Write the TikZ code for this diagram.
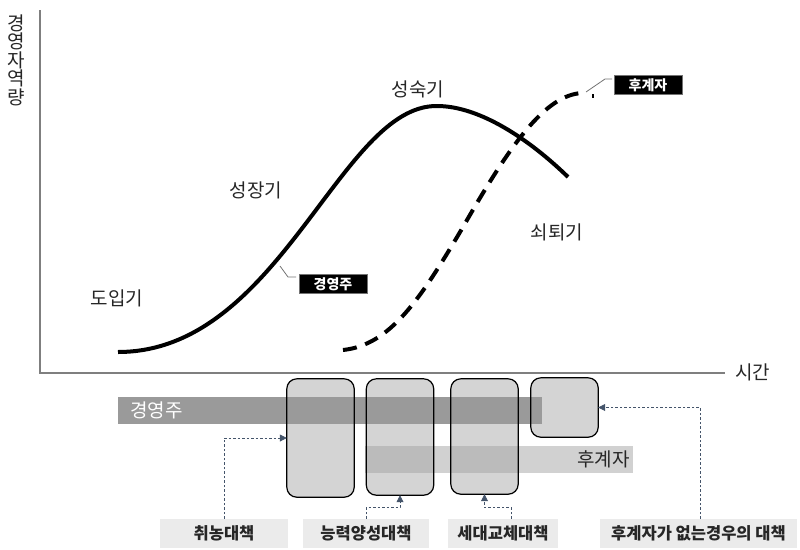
\documentclass[tikz,border=0pt]{standalone}
\usepackage{fontspec}
\setmainfont{Noto Sans CJK KR}
\usetikzlibrary{arrows.meta,calc}
\definecolor{axisgray}{HTML}{7F7F7F}
\definecolor{boxfill}{HTML}{D4D4D4}
\definecolor{darkbar}{HTML}{9A9A9A}
\definecolor{lightbarc}{HTML}{A3A3A3}
\definecolor{labfill}{HTML}{EBEBEB}
\definecolor{connc}{HTML}{44546A}
\tikzset{
  axisline/.style={axisgray, line width=1.5pt},
  phase/.style={font=\fontsize{19}{21}\selectfont, text=black!85, inner sep=0},
  stagebox/.style={fill=boxfill, draw=none, rounded corners=10pt, inner sep=0, minimum width=67pt},
  stageborder/.style={draw=black, line width=1.2pt, rounded corners=10pt},
  blacklabel/.style={fill=black, draw=black!55, line width=0.8pt, text=white, font=\fontsize{14}{16}\selectfont\bfseries, inner sep=0, minimum width=68pt, minimum height=19pt},
  leader/.style={black!55, line width=0.8pt},
  bottomlabel/.style={fill=labfill, draw=none, font=\fontsize{16.5}{18}\selectfont\bfseries, text=black!85, inner sep=0, minimum height=29pt},
  conn/.style={connc, line width=0.8pt, dash pattern=on 2.5pt off 2pt, -{Triangle[length=7pt,width=7pt]}},
}
\begin{document}
\begin{tikzpicture}[x=1pt,y=-1pt]
\useasboundingbox (0,0) rectangle (800,549);
% axes
\draw[axisline] (40,10) -- (40,373) -- (725,373);
\node[phase, align=center, font=\fontsize{19}{18.5}\selectfont] (ylab) at (16,60) {경\\영\\자\\역\\량};
\node[phase, anchor=west] (xlab) at (735,372) {시간};
% curves
\draw[line width=4pt, line cap=butt] (118,352) .. controls (280,352) and (340,105) .. (437,106) .. controls (480,106) and (530,140) .. (568,177);
\draw[line width=4pt, dash pattern=on 14pt off 9pt] (343,350) .. controls (390,345) and (420,300) .. (463,227) .. controls (510,145) and (545,95) .. (582,93);
\draw[line width=2pt] (593,94) -- (593,98);
% phase labels
\node[phase] (p1) at (117,298) {도입기};
\node[phase] (p2) at (256,190) {성장기};
\node[phase] (p3) at (418,89) {성숙기};
\node[phase] (p4) at (557,232) {쇠퇴기};
% black labels
\node[blacklabel] (bl1) at (333,284) {경영주};
\node[blacklabel] (bl2) at (648,85) {후계자};
\coordinate (c1) at (280,266);
\coordinate (c2) at (586,92);
\draw[leader] (c1) -- (288,277) -- (296,277);
\draw[leader] (c2) -- (605,79) -- (612,79);
% stage boxes
\node[stagebox, minimum height=118pt] (b1) at (320.5,438) {};
\node[stagebox, minimum height=116pt] (b2) at (400,437) {};
\node[stagebox, minimum height=115pt] (b3) at (484.5,436.5) {};
\node[stagebox, minimum height=59pt] (b4) at (564.5,407.5) {};
% bars
\fill[darkbar] (118,397) rectangle (542,424);
\fill[lightbarc, fill opacity=0.5] (365,446) rectangle (633,473);
\node[anchor=west, text=white, font=\fontsize{19}{21}\selectfont, inner sep=0] (bar1) at (130,410) {경영주};
\node[anchor=east, text=black!85, font=\fontsize{19}{21}\selectfont, inner sep=0] (bar2) at (630,459) {후계자};
% borders
\foreach \b in {b1,b2,b3,b4} \draw[stageborder] (\b.south west) rectangle (\b.north east);
% bottom labels
\node[bottomlabel, minimum width=128pt] (l1) at (224,533.5) {취농대책};
\node[bottomlabel, minimum width=126pt] (l2) at (366,533.5) {능력양성대책};
\node[bottomlabel, minimum width=110pt] (l3) at (503,533.5) {세대교체대책};
\node[bottomlabel, minimum width=197pt] (l4) at (698.5,533.5) {후계자가 없는경우의 대책};
% connectors
\draw[conn] (l1.north) |- (b1.west);
\draw[conn] (l2.north) -- ++(0,-11) -| (b2.south);
\draw[conn] ($(l3.north)+(8,0)$) -- ++(0,-11) -| (b3.south);
\draw[conn] ($(l4.north)+(1.5,0)$) |- (b4.east);
\end{tikzpicture}
\end{document}
